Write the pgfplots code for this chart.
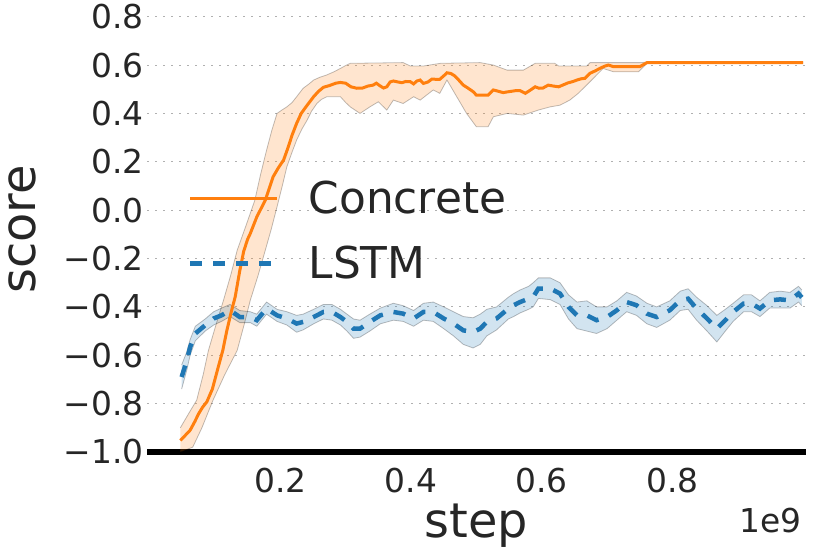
\documentclass[border=0pt]{standalone}
\usepackage{fontspec}
\setmainfont{DejaVu Sans}
\usepackage{pgfplots}
\usepackage{pgfplotstable}
\pgfplotsset{compat=1.18}
\usepgfplotslibrary{fillbetween}

\definecolor{corange}{HTML}{FF7F0E}
\definecolor{cblue}{HTML}{1F77B4}
\definecolor{txt}{HTML}{262626}
\definecolor{gridc}{HTML}{B0B0B0}

% Concrete: mean, upper and lower edge of the band (x in units of 1e9)
\pgfplotstableread{
x y
0.047 -0.952
0.055 -0.93
0.062 -0.91
0.069 -0.875
0.075 -0.842
0.081 -0.815
0.0875 -0.793
0.096 -0.74
0.105 -0.649
0.112 -0.58
0.118 -0.50
0.125 -0.42
0.131 -0.358
0.138 -0.25
0.144 -0.17
0.150 -0.12
0.154 -0.097
0.164 -0.028
0.177 0.041
0.189 0.138
0.197 0.175
0.205 0.207
0.212 0.26
0.218 0.31
0.225 0.359
0.232 0.40
0.240 0.43
0.251 0.469
0.258 0.49
0.266 0.508
0.275 0.515
0.285 0.525
0.292 0.528
0.300 0.525
0.308 0.51
0.317 0.504
0.326 0.505
0.334 0.513
0.342 0.517
0.347 0.525
0.352 0.515
0.358 0.505
0.363 0.51
0.368 0.53
0.373 0.534
0.380 0.53
0.386 0.527
0.392 0.532
0.399 0.531
0.404 0.522
0.409 0.534
0.414 0.538
0.419 0.524
0.426 0.53
0.432 0.542
0.438 0.541
0.444 0.541
0.450 0.555
0.455 0.568
0.461 0.565
0.467 0.555
0.474 0.535
0.480 0.517
0.487 0.505
0.495 0.49
0.500 0.476
0.510 0.476
0.518 0.476
0.526 0.497
0.533 0.492
0.541 0.486
0.550 0.49
0.560 0.494
0.567 0.494
0.575 0.483
0.583 0.497
0.590 0.51
0.596 0.504
0.602 0.505
0.610 0.517
0.618 0.513
0.626 0.51
0.633 0.518
0.640 0.526
0.648 0.532
0.654 0.538
0.660 0.543
0.666 0.545
0.674 0.566
0.682 0.576
0.689 0.586
0.696 0.595
0.702 0.600
0.710 0.593
0.730 0.593
0.750 0.593
0.761 0.61
0.850 0.61
1.000 0.61
}\concmean

\pgfplotstableread{
x y
0.047 -0.90
0.060 -0.84
0.072 -0.786
0.082 -0.68
0.090 -0.58
0.102 -0.47
0.113 -0.373
0.124 -0.27
0.134 -0.166
0.148 -0.06
0.161 0.041
0.170 0.15
0.179 0.248
0.187 0.33
0.195 0.40
0.203 0.415
0.210 0.427
0.218 0.445
0.225 0.469
0.235 0.504
0.243 0.52
0.251 0.538
0.261 0.55
0.271 0.559
0.282 0.572
0.292 0.586
0.300 0.598
0.307 0.607
0.388 0.61
0.399 0.596
0.419 0.596
0.445 0.607
0.506 0.61
0.526 0.60
0.547 0.579
0.572 0.579
0.590 0.607
0.620 0.607
0.626 0.596
0.669 0.596
0.674 0.61
0.751 0.61
0.761 0.612
1.000 0.612
}\concup

\pgfplotstableread{
x y
0.047 -1.0
0.066 -0.98
0.080 -0.90
0.097 -0.786
0.115 -0.68
0.134 -0.58
0.145 -0.47
0.154 -0.373
0.166 -0.27
0.177 -0.166
0.186 -0.08
0.195 0.014
0.203 0.10
0.210 0.179
0.218 0.24
0.225 0.29
0.233 0.335
0.241 0.372
0.248 0.41
0.256 0.441
0.263 0.458
0.271 0.469
0.292 0.469
0.300 0.445
0.307 0.427
0.322 0.40
0.337 0.427
0.350 0.448
0.363 0.414
0.373 0.455
0.388 0.441
0.404 0.469
0.414 0.455
0.434 0.497
0.444 0.483
0.455 0.538
0.470 0.469
0.485 0.40
0.500 0.345
0.518 0.345
0.526 0.386
0.547 0.40
0.572 0.393
0.595 0.414
0.613 0.427
0.628 0.434
0.643 0.455
0.656 0.483
0.674 0.531
0.694 0.586
0.710 0.572
0.748 0.572
0.761 0.607
1.000 0.608
}\conclo

% LSTM: mean, upper, lower
\pgfplotstableread{
x m hi lo
0.049 -0.69 -0.64 -0.74
0.057 -0.621 -0.585 -0.66
0.062 -0.566 -0.535 -0.60
0.070 -0.51 -0.48 -0.54
0.085 -0.476 -0.45 -0.50
0.098 -0.448 -0.42 -0.475
0.110 -0.435 -0.405 -0.46
0.123 -0.414 -0.39 -0.44
0.138 -0.442 -0.415 -0.465
0.154 -0.442 -0.42 -0.465
0.164 -0.455 -0.43 -0.48
0.179 -0.407 -0.38 -0.43
0.195 -0.435 -0.41 -0.46
0.210 -0.448 -0.42 -0.475
0.225 -0.469 -0.435 -0.505
0.235 -0.462 -0.43 -0.495
0.251 -0.442 -0.41 -0.47
0.266 -0.421 -0.39 -0.45
0.279 -0.421 -0.39 -0.455
0.292 -0.442 -0.41 -0.475
0.302 -0.462 -0.43 -0.50
0.312 -0.49 -0.45 -0.53
0.322 -0.49 -0.455 -0.525
0.337 -0.462 -0.43 -0.50
0.353 -0.435 -0.405 -0.47
0.373 -0.421 -0.385 -0.455
0.388 -0.428 -0.395 -0.46
0.404 -0.448 -0.415 -0.48
0.419 -0.421 -0.385 -0.455
0.434 -0.421 -0.38 -0.46
0.450 -0.448 -0.40 -0.49
0.465 -0.469 -0.42 -0.52
0.480 -0.497 -0.44 -0.555
0.495 -0.504 -0.445 -0.57
0.506 -0.49 -0.43 -0.555
0.516 -0.462 -0.41 -0.52
0.531 -0.448 -0.40 -0.495
0.549 -0.407 -0.36 -0.45
0.557 -0.393 -0.345 -0.44
0.567 -0.38 -0.33 -0.425
0.580 -0.366 -0.315 -0.41
0.587 -0.359 -0.30 -0.40
0.595 -0.324 -0.28 -0.365
0.613 -0.324 -0.28 -0.37
0.628 -0.345 -0.30 -0.39
0.641 -0.40 -0.35 -0.45
0.654 -0.435 -0.38 -0.49
0.669 -0.435 -0.375 -0.50
0.684 -0.455 -0.40 -0.51
0.700 -0.442 -0.40 -0.49
0.715 -0.414 -0.375 -0.455
0.730 -0.38 -0.34 -0.42
0.745 -0.393 -0.355 -0.435
0.761 -0.428 -0.385 -0.47
0.776 -0.442 -0.40 -0.485
0.796 -0.414 -0.375 -0.455
0.812 -0.373 -0.335 -0.415
0.824 -0.366 -0.325 -0.41
0.837 -0.407 -0.36 -0.455
0.853 -0.448 -0.395 -0.50
0.868 -0.49 -0.435 -0.545
0.881 -0.455 -0.41 -0.50
0.893 -0.421 -0.385 -0.46
0.909 -0.386 -0.35 -0.42
0.921 -0.386 -0.35 -0.42
0.934 -0.407 -0.375 -0.44
0.949 -0.373 -0.34 -0.405
0.965 -0.369 -0.335 -0.405
0.980 -0.373 -0.34 -0.405
0.993 -0.345 -0.315 -0.38
0.998 -0.361 -0.33 -0.395
}\lstm

\begin{document}
\begin{tikzpicture}
\begin{axis}[
  at={(147bp,99bp)}, anchor=south west,
  scale only axis, width=658.7bp, height=445bp,
  xmin=-0.004, xmax=1.004, ymin=-1, ymax=0.84,
  clip mode=individual,
  axis x line*=bottom, axis y line*=left,
  x axis line style={line width=6bp, black, -},
  y axis line style={draw=none},
  major tick length=0pt,
  xtick={0.2,0.4,0.6,0.8}, xticklabels={0.2,0.4,0.6,0.8},
  ytick={-1,-0.8,-0.6,-0.4,-0.2,0,0.2,0.4,0.6,0.8},
  yticklabels={−1.0,−0.8,−0.6,−0.4,−0.2,0.0,0.2,0.4,0.6,0.8},
  ymajorgrids,
  grid style={gridc, line width=1bp, dash pattern=on 2bp off 6bp},
  tick label style={font=\fontsize{33}{33}\selectfont, text=txt, inner sep=0pt},
  xticklabel style={anchor=base, yshift=-41bp},
  yticklabel style={anchor=east, xshift=-3bp},
  xlabel={step}, ylabel={score},
  every axis x label/.style={at={(rel axis cs:0.5,0)}, anchor=base, yshift=-85bp,
    font=\fontsize{48}{48}\selectfont, text=txt},
  every axis y label/.style={at={(rel axis cs:0,0.5)}, xshift=-112bp, rotate=90, anchor=base,
    font=\fontsize{48}{48}\selectfont, text=txt},
  legend style={at={(0.0622,0.613)}, anchor=north west, draw=none, fill=none,
    inner sep=0pt, row sep=27bp, font=\fontsize{44}{44}\selectfont, text=txt,
    /tikz/every odd column/.append style={column sep=27bp}},
  legend cell align=left,
  legend image code/.code={\draw[#1] (0bp,0bp) -- (87bp,0bp);},
]
% bands
\addplot[draw=black, draw opacity=0.25, line width=0.8bp, name path=cu, forget plot] table {\concup};
\addplot[draw=black, draw opacity=0.25, line width=0.8bp, name path=cl, forget plot] table {\conclo};
\addplot[fill=corange, fill opacity=0.2, draw=none, forget plot] fill between[of=cu and cl];
\addplot[draw=black, draw opacity=0.25, line width=0.8bp, name path=lu, forget plot] table[x=x, y=hi] {\lstm};
\addplot[draw=black, draw opacity=0.25, line width=0.8bp, name path=ll, forget plot] table[x=x, y=lo] {\lstm};
\addplot[fill=cblue, fill opacity=0.2, draw=none, forget plot] fill between[of=lu and ll];
% means
\addplot[corange, line width=3bp] table {\concmean};
\addlegendentry{Concrete}
\addplot[cblue, line width=4.5bp, dash pattern=on 12bp off 11bp] table[x=x, y=m] {\lstm};
\addlegendentry{LSTM}
\node[anchor=base east, inner sep=0pt, font=\fontsize{33}{33}\selectfont, text=txt,
  xshift=-4bp, yshift=-80bp] at (rel axis cs:1,0) {1e9};
\end{axis}
\pgfresetboundingbox
\useasboundingbox (0,0) rectangle (831bp,551bp);
\end{tikzpicture}
\end{document}
